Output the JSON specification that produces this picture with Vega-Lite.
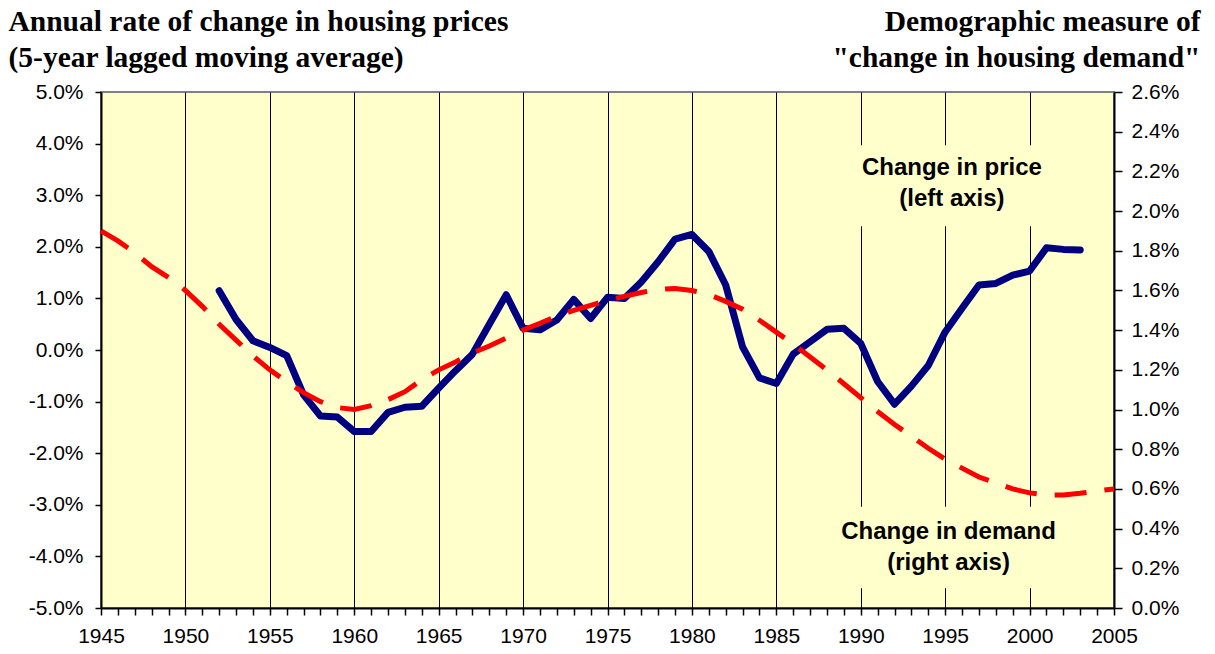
{
  "$schema": "https://vega.github.io/schema/vega-lite/v6.json",
  "width": 1013,
  "height": 516,
  "autosize": {"type": "none"},
  "padding": {"left": 101, "top": 92, "right": 101, "bottom": 46},
  "background": "white",
  "config": {
    "view": {"fill": "#FFFFCC", "stroke": "#808080", "strokeWidth": 2},
    "axis": {"labelFont": "Liberation Sans", "labelFontSize": 21, "labelColor": "black", "domainColor": "black", "domainWidth": 2, "tickColor": "black", "tickWidth": 1.5, "titleColor": "black"}
  },
  "data": {
    "values": [
      {"year": 1945, "price": null, "demand": 1.90},
      {"year": 1946, "price": null, "demand": 1.85},
      {"year": 1947, "price": null, "demand": 1.79},
      {"year": 1948, "price": null, "demand": 1.72},
      {"year": 1949, "price": null, "demand": 1.665},
      {"year": 1950, "price": null, "demand": 1.60},
      {"year": 1951, "price": null, "demand": 1.52},
      {"year": 1952, "price": 1.15, "demand": 1.43},
      {"year": 1953, "price": 0.59, "demand": 1.35},
      {"year": 1954, "price": 0.18, "demand": 1.27},
      {"year": 1955, "price": 0.05, "demand": 1.20},
      {"year": 1956, "price": -0.11, "demand": 1.14},
      {"year": 1957, "price": -0.87, "demand": 1.085},
      {"year": 1958, "price": -1.28, "demand": 1.04},
      {"year": 1959, "price": -1.30, "demand": 1.01},
      {"year": 1960, "price": -1.58, "demand": 1.00},
      {"year": 1961, "price": -1.58, "demand": 1.02},
      {"year": 1962, "price": -1.21, "demand": 1.05},
      {"year": 1963, "price": -1.11, "demand": 1.09},
      {"year": 1964, "price": -1.09, "demand": 1.15},
      {"year": 1965, "price": -0.74, "demand": 1.20},
      {"year": 1966, "price": -0.40, "demand": 1.24},
      {"year": 1967, "price": -0.08, "demand": 1.285},
      {"year": 1968, "price": 0.50, "demand": 1.32},
      {"year": 1969, "price": 1.07, "demand": 1.36},
      {"year": 1970, "price": 0.42, "demand": 1.40},
      {"year": 1971, "price": 0.39, "demand": 1.435},
      {"year": 1972, "price": 0.58, "demand": 1.47},
      {"year": 1973, "price": 0.98, "demand": 1.50},
      {"year": 1974, "price": 0.61, "demand": 1.525},
      {"year": 1975, "price": 1.02, "demand": 1.55},
      {"year": 1976, "price": 1.00, "demand": 1.57},
      {"year": 1977, "price": 1.32, "demand": 1.59},
      {"year": 1978, "price": 1.71, "demand": 1.605},
      {"year": 1979, "price": 2.15, "demand": 1.61},
      {"year": 1980, "price": 2.24, "demand": 1.60},
      {"year": 1981, "price": 1.91, "demand": 1.58},
      {"year": 1982, "price": 1.26, "demand": 1.545},
      {"year": 1983, "price": 0.06, "demand": 1.505},
      {"year": 1984, "price": -0.54, "demand": 1.45},
      {"year": 1985, "price": -0.65, "demand": 1.39},
      {"year": 1986, "price": -0.08, "demand": 1.33},
      {"year": 1987, "price": 0.16, "demand": 1.265},
      {"year": 1988, "price": 0.40, "demand": 1.20},
      {"year": 1989, "price": 0.42, "demand": 1.13},
      {"year": 1990, "price": 0.13, "demand": 1.06},
      {"year": 1991, "price": -0.61, "demand": 0.99},
      {"year": 1992, "price": -1.05, "demand": 0.925},
      {"year": 1993, "price": -0.70, "demand": 0.865},
      {"year": 1994, "price": -0.30, "demand": 0.805},
      {"year": 1995, "price": 0.35, "demand": 0.75},
      {"year": 1996, "price": 0.81, "demand": 0.705},
      {"year": 1997, "price": 1.26, "demand": 0.66},
      {"year": 1998, "price": 1.29, "demand": 0.63},
      {"year": 1999, "price": 1.45, "demand": 0.60},
      {"year": 2000, "price": 1.53, "demand": 0.58},
      {"year": 2001, "price": 1.98, "demand": 0.57},
      {"year": 2002, "price": 1.95, "demand": 0.57},
      {"year": 2003, "price": 1.94, "demand": 0.578},
      {"year": 2004, "price": null, "demand": 0.59},
      {"year": 2005, "price": null, "demand": 0.60}
    ]
  },
  "layer": [
    {
      "layer": [
        {
          "mark": {"type": "line", "color": "#000080", "strokeWidth": 7, "strokeJoin": "round", "strokeCap": "round"},
          "encoding": {
            "x": {
              "field": "year", "type": "quantitative", "title": null,
              "scale": {"domain": [1945, 2005], "nice": false, "zero": false},
              "axis": {"title": null, "values": [1945,1946,1947,1948,1949,1950,1951,1952,1953,1954,1955,1956,1957,1958,1959,1960,1961,1962,1963,1964,1965,1966,1967,1968,1969,1970,1971,1972,1973,1974,1975,1976,1977,1978,1979,1980,1981,1982,1983,1984,1985,1986,1987,1988,1989,1990,1991,1992,1993,1994,1995,1996,1997,1998,1999,2000,2001,2002,2003,2004,2005], "labelExpr": "datum.value % 5 === 0 ? '' + datum.value : ''", "labelOverlap": false, "labelFlush": false, "labelPadding": 10, "tickSize": 7, "grid": true, "gridColor": "black", "gridWidth": 1, "gridOpacity": {"condition": {"test": "datum.value % 5 === 0 && datum.value > 1945 && datum.value < 2005", "value": 1}, "value": 0}}
            },
            "y": {
              "field": "price", "type": "quantitative",
              "title": ["Annual rate of change in housing prices", "(5-year lagged moving average)"],
              "scale": {"domain": [-5, 5], "nice": false, "zero": false},
              "axis": {"titleAngle": 0, "titleAlign": "left", "titleBaseline": "alphabetic", "titleX": -93, "titleY": -62, "titleFont": "Liberation Serif", "titleFontSize": 29.5, "titleFontWeight": "bold", "titleLineHeight": 36, "values": [-5, -4, -3, -2, -1, 0, 1, 2, 3, 4, 5], "labelExpr": "(datum.value < 0 ? '-' : '') + format(abs(datum.value), '.1f') + '%'", "tickSize": 6, "labelPadding": 12, "grid": false}
            }
          }
        },
        {
          "data": {"values": [{}]},
          "mark": {"type": "rect", "color": "#FFFFCC"},
          "encoding": {
            "x": {"datum": 1988, "type": "quantitative", "title": null,
              "axis": {"title": null, "values": [1945,1946,1947,1948,1949,1950,1951,1952,1953,1954,1955,1956,1957,1958,1959,1960,1961,1962,1963,1964,1965,1966,1967,1968,1969,1970,1971,1972,1973,1974,1975,1976,1977,1978,1979,1980,1981,1982,1983,1984,1985,1986,1987,1988,1989,1990,1991,1992,1993,1994,1995,1996,1997,1998,1999,2000,2001,2002,2003,2004,2005], "labelExpr": "datum.value % 5 === 0 ? '' + datum.value : ''", "labelOverlap": false, "labelFlush": false, "labelPadding": 10, "tickSize": 7, "grid": true, "gridColor": "black", "gridWidth": 1, "gridOpacity": {"condition": {"test": "datum.value % 5 === 0 && datum.value > 1945 && datum.value < 2005", "value": 1}, "value": 0}}},
            "x2": {"datum": 2003},
            "y": {"datum": 2.40, "type": "quantitative",
              "title": ["Annual rate of change in housing prices", "(5-year lagged moving average)"],
              "axis": {"titleAngle": 0, "titleAlign": "left", "titleBaseline": "alphabetic", "titleX": -93, "titleY": -62, "titleFont": "Liberation Serif", "titleFontSize": 29.5, "titleFontWeight": "bold", "titleLineHeight": 36, "values": [-5, -4, -3, -2, -1, 0, 1, 2, 3, 4, 5], "labelExpr": "(datum.value < 0 ? '-' : '') + format(abs(datum.value), '.1f') + '%'", "tickSize": 6, "labelPadding": 12, "grid": false}},
            "y2": {"datum": 3.97}
          }
        },
        {
          "data": {"values": [{}]},
          "mark": {"type": "text", "font": "Liberation Sans", "fontWeight": "bold", "fontSize": 24, "lineHeight": 31, "align": "center", "baseline": "middle", "color": "black"},
          "encoding": {
            "x": {"datum": 1995.4, "type": "quantitative", "title": null,
              "axis": {"title": null, "values": [1945,1946,1947,1948,1949,1950,1951,1952,1953,1954,1955,1956,1957,1958,1959,1960,1961,1962,1963,1964,1965,1966,1967,1968,1969,1970,1971,1972,1973,1974,1975,1976,1977,1978,1979,1980,1981,1982,1983,1984,1985,1986,1987,1988,1989,1990,1991,1992,1993,1994,1995,1996,1997,1998,1999,2000,2001,2002,2003,2004,2005], "labelExpr": "datum.value % 5 === 0 ? '' + datum.value : ''", "labelOverlap": false, "labelFlush": false, "labelPadding": 10, "tickSize": 7, "grid": true, "gridColor": "black", "gridWidth": 1, "gridOpacity": {"condition": {"test": "datum.value % 5 === 0 && datum.value > 1945 && datum.value < 2005", "value": 1}, "value": 0}}},
            "y": {"datum": 3.53, "type": "quantitative",
              "title": ["Annual rate of change in housing prices", "(5-year lagged moving average)"],
              "axis": {"titleAngle": 0, "titleAlign": "left", "titleBaseline": "alphabetic", "titleX": -93, "titleY": -62, "titleFont": "Liberation Serif", "titleFontSize": 29.5, "titleFontWeight": "bold", "titleLineHeight": 36, "values": [-5, -4, -3, -2, -1, 0, 1, 2, 3, 4, 5], "labelExpr": "(datum.value < 0 ? '-' : '') + format(abs(datum.value), '.1f') + '%'", "tickSize": 6, "labelPadding": 12, "grid": false}},
            "text": {"value": ["Change in price", "(left axis)"]}
          }
        }
      ]
    },
    {
      "layer": [
        {
          "mark": {"type": "line", "color": "#FF0000", "strokeWidth": 5, "strokeDash": [32, 18]},
          "encoding": {
            "x": {"field": "year", "type": "quantitative", "title": null,
              "axis": {"title": null, "values": [1945,1946,1947,1948,1949,1950,1951,1952,1953,1954,1955,1956,1957,1958,1959,1960,1961,1962,1963,1964,1965,1966,1967,1968,1969,1970,1971,1972,1973,1974,1975,1976,1977,1978,1979,1980,1981,1982,1983,1984,1985,1986,1987,1988,1989,1990,1991,1992,1993,1994,1995,1996,1997,1998,1999,2000,2001,2002,2003,2004,2005], "labelExpr": "datum.value % 5 === 0 ? '' + datum.value : ''", "labelOverlap": false, "labelFlush": false, "labelPadding": 10, "tickSize": 7, "grid": true, "gridColor": "black", "gridWidth": 1, "gridOpacity": {"condition": {"test": "datum.value % 5 === 0 && datum.value > 1945 && datum.value < 2005", "value": 1}, "value": 0}}},
            "y": {
              "field": "demand", "type": "quantitative",
              "title": ["Demographic measure of", "\"change in housing demand\""],
              "scale": {"domain": [0, 2.6], "nice": false, "zero": false},
              "axis": {"orient": "right", "titleAngle": 0, "titleAlign": "right", "titleBaseline": "alphabetic", "titleX": 86, "titleY": -62, "titleFont": "Liberation Serif", "titleFontSize": 29.5, "titleFontWeight": "bold", "titleLineHeight": 36, "values": [0, 0.2, 0.4, 0.6, 0.8, 1.0, 1.2, 1.4, 1.6, 1.8, 2.0, 2.2, 2.4, 2.6], "labelExpr": "format(datum.value, '.1f') + '%'", "tickSize": 8, "labelPadding": 9, "grid": false}
            }
          }
        },
        {
          "data": {"values": [{}]},
          "mark": {"type": "rect", "color": "#FFFFCC"},
          "encoding": {
            "x": {"datum": 1988, "type": "quantitative", "title": null,
              "axis": {"title": null, "values": [1945,1946,1947,1948,1949,1950,1951,1952,1953,1954,1955,1956,1957,1958,1959,1960,1961,1962,1963,1964,1965,1966,1967,1968,1969,1970,1971,1972,1973,1974,1975,1976,1977,1978,1979,1980,1981,1982,1983,1984,1985,1986,1987,1988,1989,1990,1991,1992,1993,1994,1995,1996,1997,1998,1999,2000,2001,2002,2003,2004,2005], "labelExpr": "datum.value % 5 === 0 ? '' + datum.value : ''", "labelOverlap": false, "labelFlush": false, "labelPadding": 10, "tickSize": 7, "grid": true, "gridColor": "black", "gridWidth": 1, "gridOpacity": {"condition": {"test": "datum.value % 5 === 0 && datum.value > 1945 && datum.value < 2005", "value": 1}, "value": 0}}},
            "x2": {"datum": 2003},
            "y": {"datum": 0.10, "type": "quantitative",
              "title": ["Demographic measure of", "\"change in housing demand\""],
              "axis": {"orient": "right", "titleAngle": 0, "titleAlign": "right", "titleBaseline": "alphabetic", "titleX": 86, "titleY": -62, "titleFont": "Liberation Serif", "titleFontSize": 29.5, "titleFontWeight": "bold", "titleLineHeight": 36, "values": [0, 0.2, 0.4, 0.6, 0.8, 1.0, 1.2, 1.4, 1.6, 1.8, 2.0, 2.2, 2.4, 2.6], "labelExpr": "format(datum.value, '.1f') + '%'", "tickSize": 8, "labelPadding": 9, "grid": false}},
            "y2": {"datum": 0.51}
          }
        },
        {
          "data": {"values": [{}]},
          "mark": {"type": "text", "font": "Liberation Sans", "fontWeight": "bold", "fontSize": 24, "lineHeight": 31, "align": "center", "baseline": "middle", "color": "black"},
          "encoding": {
            "x": {"datum": 1995.2, "type": "quantitative", "title": null,
              "axis": {"title": null, "values": [1945,1946,1947,1948,1949,1950,1951,1952,1953,1954,1955,1956,1957,1958,1959,1960,1961,1962,1963,1964,1965,1966,1967,1968,1969,1970,1971,1972,1973,1974,1975,1976,1977,1978,1979,1980,1981,1982,1983,1984,1985,1986,1987,1988,1989,1990,1991,1992,1993,1994,1995,1996,1997,1998,1999,2000,2001,2002,2003,2004,2005], "labelExpr": "datum.value % 5 === 0 ? '' + datum.value : ''", "labelOverlap": false, "labelFlush": false, "labelPadding": 10, "tickSize": 7, "grid": true, "gridColor": "black", "gridWidth": 1, "gridOpacity": {"condition": {"test": "datum.value % 5 === 0 && datum.value > 1945 && datum.value < 2005", "value": 1}, "value": 0}}},
            "y": {"datum": 0.383, "type": "quantitative",
              "title": ["Demographic measure of", "\"change in housing demand\""],
              "axis": {"orient": "right", "titleAngle": 0, "titleAlign": "right", "titleBaseline": "alphabetic", "titleX": 86, "titleY": -62, "titleFont": "Liberation Serif", "titleFontSize": 29.5, "titleFontWeight": "bold", "titleLineHeight": 36, "values": [0, 0.2, 0.4, 0.6, 0.8, 1.0, 1.2, 1.4, 1.6, 1.8, 2.0, 2.2, 2.4, 2.6], "labelExpr": "format(datum.value, '.1f') + '%'", "tickSize": 8, "labelPadding": 9, "grid": false}},
            "text": {"value": ["Change in demand", "(right axis)"]}
          }
        }
      ]
    }
  ],
  "resolve": {"scale": {"y": "independent"}}
}
